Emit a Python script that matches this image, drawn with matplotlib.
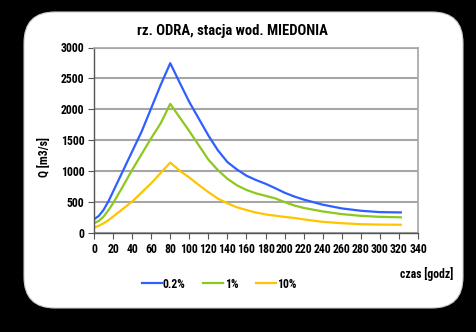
import matplotlib
matplotlib.use("Agg")
import matplotlib.pyplot as plt
from matplotlib.patches import FancyBboxPatch
from matplotlib import font_manager

# ---- data ----
hours_b = [0, 5, 10, 15, 20, 30, 40, 50, 60, 70, 80, 90, 100, 110, 120, 130, 140, 150,
           160, 170, 180, 190, 200, 210, 220, 240, 260, 280, 300, 322]
q_02 = [226, 280, 377, 512, 673, 996, 1320, 1643, 2020, 2397, 2747, 2430, 2120, 1850,
        1580, 1340, 1150, 1030, 930, 860, 800, 730, 655, 595, 545, 462, 402, 364, 342, 337]
q_1 = [162, 200, 269, 370, 485, 750, 1023, 1280, 1535, 1777, 2090, 1870, 1650, 1420,
       1190, 1020, 880, 775, 700, 645, 605, 565, 505, 450, 410, 353, 310, 282, 266, 258]
q_10 = [92, 120, 162, 210, 269, 390, 512, 660, 808, 975, 1142, 1010, 900, 780,
        665, 560, 485, 420, 375, 335, 305, 285, 265, 248, 225, 185, 163, 147, 141, 138]
series_labels = ["0.2%", "1%", "10%"]
x_ticks = list(range(0, 341, 20))
y_ticks = list(range(0, 3001, 500))

# font: prefer a narrow sans
fams = {f.name for f in font_manager.fontManager.ttflist}
fam = "Liberation Sans"
for cand in ["Liberation Sans Narrow", "Arial Narrow", "Roboto Condensed",
             "PT Sans Narrow", "Archivo Narrow", "Asap Condensed"]:
    if cand in fams:
        fam = cand
        break
plt.rcParams['font.family'] = [fam, 'DejaVu Sans']
plt.rcParams['font.weight'] = 'bold'

W, H = 476, 332
fig = plt.figure(figsize=(W / 100, H / 100), dpi=100)
fig.patch.set_facecolor("black")

# white rounded panel
l, r, t, b = 24, 463, 12, 308
panel = FancyBboxPatch((l / W, 1 - b / H), (r - l) / W, (b - t) / H,
                       boxstyle="round,pad=0,rounding_size=0.065",
                       transform=fig.transFigure, facecolor="white",
                       edgecolor="#cccccc", linewidth=0.8, mutation_aspect=W / H,
                       zorder=-10)
fig.patches.append(panel)

ax = fig.add_axes([94 / W, 1 - 233.3 / H, (418 - 94) / W, (233.3 - 47.5) / H])
ax.set_zorder(5)
ax.set_facecolor("white")

ax.plot(hours_b, q_02, color="#2f5fff", lw=1.6, label=series_labels[0])
ax.plot(hours_b, q_1, color="#8cc81e", lw=1.6, label=series_labels[1])
ax.plot(hours_b, q_10, color="#ffc400", lw=1.6, label=series_labels[2])

ax.set_xlim(0, 340)
ax.set_ylim(0, 3000)
ax.set_xticks(x_ticks)
ax.set_yticks(y_ticks)
ax.yaxis.grid(True, color="#a6a6a6", lw=1.5)
ax.set_axisbelow(True)
for s in ["top", "right"]:
    ax.spines[s].set_color("#a6a6a6")
    ax.spines[s].set_linewidth(1.2)
for s in ["left", "bottom"]:
    ax.spines[s].set_color("#555555")
    ax.spines[s].set_linewidth(1.0)
ax.tick_params(axis="both", direction="out", length=4, width=0.8, color="#555555",
               labelsize=8.5, pad=3)
for lab in ax.get_xticklabels() + ax.get_yticklabels():
    lab.set_fontweight("bold")

fig.text(232 / W, 1 - 31 / H, "rz. ODRA, stacja wod. MIEDONIA", ha="center", va="center",
         fontsize=10.5, fontweight="bold")
fig.text(44 / W, 1 - 157 / H, "Q [m3/s]", ha="center", va="center", rotation=90,
         fontsize=8.5, fontweight="bold")
fig.text(453 / W, 1 - 274 / H, "czas [godz]", ha="right", va="center",
         fontsize=8.5, fontweight="bold")

leg = fig.legend(loc="center", bbox_to_anchor=(219 / W, 1 - 284 / H), ncol=3,
                 frameon=False, handlelength=1.7, handletextpad=0.1,
                 columnspacing=1.5, prop={"weight": "bold", "size": 8.5})

fig.savefig("out.png", dpi=100, facecolor="black")
